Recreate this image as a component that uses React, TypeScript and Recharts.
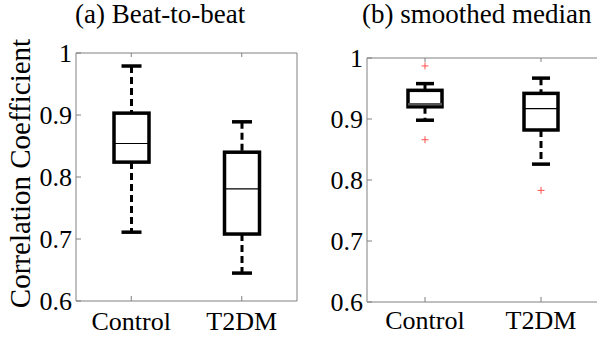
import { ComposedChart, Bar, Scatter, XAxis, YAxis } from "recharts"

const categories = ["Control", "T2DM"]
const yTicks = [0.6, 0.7, 0.8, 0.9, 1]

// (a) beat-to-beat
const beatLow = [0.711, 0.645]
const beatQ1 = [0.824, 0.708]
const beatMedian = [0.854, 0.781]
const beatQ3 = [0.903, 0.84]
const beatHigh = [0.979, 0.889]

// (b) smoothed median
const smoothLow = [0.898, 0.826]
const smoothQ1 = [0.92, 0.882]
const smoothMedian = [0.924, 0.917]
const smoothQ3 = [0.947, 0.942]
const smoothHigh = [0.958, 0.967]
const smoothOutlierUpper = [0.987, null]
const smoothOutlierLower = [0.866, 0.783]

const FONT = "'Liberation Serif', 'Times New Roman', serif"
const AXIS = "#808080"

const beatData = categories.map((cat, i) => ({
  cat,
  lo: beatLow[i],
  q1: beatQ1[i],
  med: beatMedian[i],
  q3: beatQ3[i],
  hi: beatHigh[i],
}))

const smoothData = categories.map((cat, i) => ({
  cat,
  lo: smoothLow[i],
  q1: smoothQ1[i],
  med: smoothMedian[i],
  q3: smoothQ3[i],
  hi: smoothHigh[i],
  outUp: smoothOutlierUpper[i],
  outLow: smoothOutlierLower[i],
}))

function BoxShape(props: any) {
  const { x, y, width, height, payload, capWidth, medianColor, medianWidth } = props
  const { lo, hi, q1, med, q3 } = payload
  // bar spans [lo, hi]; map values inside it linearly
  const py = (v: number) => y + ((hi - v) / (hi - lo)) * height
  const cx = x + width / 2
  const half = capWidth / 2
  return (
    <g>
      <line x1={cx} x2={cx} y1={py(hi)} y2={py(q3)} stroke="#000" strokeWidth={3} strokeDasharray="7 4" />
      <line x1={cx} x2={cx} y1={py(q1)} y2={py(lo)} stroke="#000" strokeWidth={3} strokeDasharray="7 4" />
      <line x1={cx - half} x2={cx + half} y1={py(hi)} y2={py(hi)} stroke="#000" strokeWidth={3.5} />
      <line x1={cx - half} x2={cx + half} y1={py(lo)} y2={py(lo)} stroke="#000" strokeWidth={3.5} />
      <rect x={x} y={py(q3)} width={width} height={py(q1) - py(q3)} fill="#fff" stroke="#000" strokeWidth={3.5} />
      <line x1={x} x2={x + width} y1={py(med)} y2={py(med)} stroke={medianColor} strokeWidth={medianWidth} />
    </g>
  )
}

function Plus(props: any) {
  const { cx, cy, value } = props
  if (value == null || cx == null || cy == null || isNaN(cy)) return null
  return (
    <g>
      <line x1={cx - 3.5} x2={cx + 3.5} y1={cy} y2={cy} stroke="#ff5050" strokeWidth={1} />
      <line x1={cx} x2={cx} y1={cy - 3.5} y2={cy + 3.5} stroke="#ff5050" strokeWidth={1} />
    </g>
  )
}

const tickStyle = { fill: "#000", fontSize: 26, fontFamily: FONT }

function Panel(props: any) {
  const { data, withOutliers, left, marginTop, marginRight, yAxisWidth, xAxisHeight, xTickMargin, barSize, capWidth } = props
  return (
    <div style={{ position: "absolute", left, top: 0 }}>
      <ComposedChart width={300} height={338} data={data} margin={{ top: marginTop, right: marginRight, bottom: 0, left: 0 }}>
        <XAxis
          dataKey="cat"
          type="category"
          stroke={AXIS}
          tick={tickStyle}
          tickSize={-5}
          tickMargin={xTickMargin}
          height={xAxisHeight}
          interval={0}
        />
        <XAxis
          xAxisId="top"
          dataKey="cat"
          orientation="top"
          stroke={AXIS}
          tickSize={-4}
          tickFormatter={() => ""}
          height={1}
        />
        <YAxis
          type="number"
          domain={[0.6, 1]}
          ticks={yTicks}
          stroke={AXIS}
          tick={tickStyle}
          tickSize={-5}
          tickMargin={9}
          width={yAxisWidth}
          interval={0}
        />
        <YAxis
          yAxisId="r"
          orientation="right"
          type="number"
          domain={[0.6, 1]}
          ticks={yTicks}
          stroke={AXIS}
          tickSize={-4}
          tickFormatter={() => ""}
          width={1}
        />
        <Bar
          dataKey={(d: any) => [d.lo, d.hi]}
          barSize={barSize}
          isAnimationActive={false}
          shape={(p: any) => (
            <BoxShape
              {...p}
              capWidth={capWidth}
              medianColor={p.payload.med - p.payload.q1 < 0.01 ? "#555" : "#000"}
              medianWidth={p.payload.med - p.payload.q1 < 0.01 ? 2.5 : 1.2}
            />
          )}
        />
        {withOutliers && (
          <Scatter dataKey="outUp" isAnimationActive={false} shape={(p: any) => <Plus {...p} value={p.payload?.outUp} />} />
        )}
        {withOutliers && (
          <Scatter dataKey="outLow" isAnimationActive={false} shape={(p: any) => <Plus {...p} value={p.payload?.outLow} />} />
        )}
      </ComposedChart>
    </div>
  )
}

export default function App() {
  return (
    <div style={{ position: "absolute", left: 0, top: 0, width: 597, height: 338, overflow: "hidden", background: "#fff" }}>
      <Panel
        data={beatData}
        left={0}
        marginTop={52}
        marginRight={2}
        yAxisWidth={76}
        xAxisHeight={37}
        xTickMargin={15.5}
        barSize={35}
        capWidth={20}
      />
      <Panel
        data={smoothData}
        withOutliers
        left={300}
        marginTop={57}
        marginRight={0}
        yAxisWidth={67}
        xAxisHeight={36}
        xTickMargin={13.5}
        barSize={34}
        capWidth={18}
      />
      <svg width={597} height={338} style={{ position: "absolute", left: 0, top: 0, pointerEvents: "none", fontFamily: FONT }}>
        <text x={75} y={23} style={{ fontFamily: FONT, fontSize: 27 }} fill="#000">(a) Beat-to-beat</text>
        <text x={362} y={23} style={{ fontFamily: FONT, fontSize: 27 }} fill="#000">(b) smoothed median</text>
        <text
          x={0}
          y={0}
          transform="translate(30,173.5) rotate(-90)"
          textAnchor="middle"
          style={{ fontFamily: FONT, fontSize: 29 }}
          fill="#000"
        >
          Correlation Coefficient
        </text>
      </svg>
    </div>
  )
}
